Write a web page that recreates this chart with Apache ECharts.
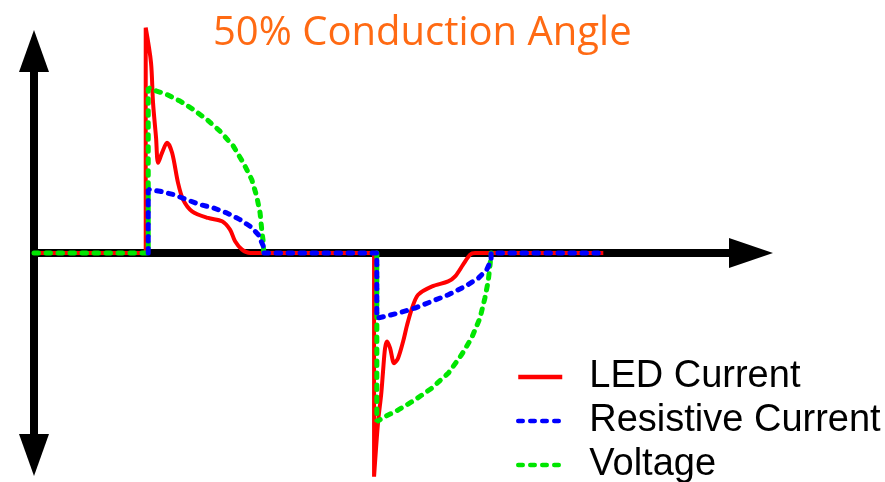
<!DOCTYPE html>
<html>
<head>
<meta charset="utf-8">
<script src="https://cdn.jsdelivr.net/npm/echarts@6/dist/echarts.min.js"></script>
<style>
  html, body { margin: 0; padding: 0; background: #fff; }
  #chart { width: 885px; height: 482px; }
</style>
</head>
<body>
<div id="chart"></div>
<script>
// phase angle (deg) vs. normalized amplitude
const ledCurrent = [
  [0, 0], [88.5, 0], [88.5, 1.35], [92.7, 1.14], [94.3, 0.90], [96.7, 0.69], [98.3, 0.54],
  [101.4, 0.60], [105.4, 0.66], [109.4, 0.60], [114.1, 0.42], [118.1, 0.32], [125.2, 0.25],
  [137.9, 0.21], [149.0, 0.19], [155.3, 0.14], [159.3, 0.07], [164.8, 0.02], [171.2, 0],
  [269.4, 0], [269.4, -1.34], [272.6, -1.01], [275.0, -0.85], [276.5, -0.71], [278.1, -0.57],
  [279.7, -0.53], [282.1, -0.57], [285.3, -0.66], [288.4, -0.63], [292.4, -0.53], [295.6, -0.43],
  [299.5, -0.33], [304.3, -0.25], [315.4, -0.20], [328.1, -0.17], [333.6, -0.14], [339.9, -0.07],
  [345.5, -0.01], [349.4, 0], [451, 0]
]
const resistiveCurrent = [
  [90.5, 0], [90.5, 0.38], [99.8, 0.37], [110.4, 0.35], [121.0, 0.32], [131.5, 0.29],
  [142.1, 0.27], [152.7, 0.24], [163.2, 0.20], [171.2, 0.16], [177.7, 0.11], [181.7, 0.04], [182, 0],
  [271.6, 0], [271.6, -0.39], [278.1, -0.38], [288.6, -0.36], [301.8, -0.33], [315.0, -0.29],
  [328.2, -0.25], [341.5, -0.20], [352.1, -0.15], [358.7, -0.10], [362.1, -0.04], [362.1, 0], [447, 0]
]
const voltage = [
  [0, 0], [90.5, 0], [90.5, 0.99], [97.2, 0.97], [105.1, 0.95], [115.7, 0.91], [126.2, 0.86],
  [136.8, 0.80], [147.3, 0.73], [157.9, 0.64], [165.8, 0.54], [172.5, 0.44], [176.4, 0.34],
  [179.1, 0.24], [180.4, 0.14], [181.7, 0.06], [182, 0],
  [226, '-'],
  [271.6, 0], [271.6, -1.01], [278.1, -0.98], [288.6, -0.94], [301.8, -0.88], [315.0, -0.81],
  [328.2, -0.72], [338.7, -0.61], [346.6, -0.51], [353.3, -0.39], [357.2, -0.27], [359.8, -0.17],
  [361.3, -0.07], [362.1, 0]
]
const names = ['LED Current', 'Resistive Current', 'Voltage']

const chart = echarts.init(document.getElementById('chart'), null, { renderer: 'canvas' })

const dotted = (color) => ({ color: color, width: 5, type: [4.5, 7.5], cap: 'round' })

chart.setOption({
  animation: false,
  backgroundColor: '#fff',
  title: {
    text: '50% Conduction Angle',
    left: 208,
    top: 9,
    textStyle: { color: '#ff6a13', fontFamily: 'Open Sans', fontSize: 40, fontWeight: 'normal' }
  },
  legend: {
    data: names,
    orient: 'vertical',
    left: 516,
    top: 358,
    height: 140,
    padding: 0,
    itemWidth: 44,
    itemHeight: 14,
    itemGap: 6,
    itemStyle: { opacity: 0 },
    lineStyle: { width: 4.5 },
    textStyle: { color: '#000', fontFamily: 'Liberation Sans', fontSize: 38, lineHeight: 38, padding: [0, 0, 0, 22] }
  },
  grid: { left: 34, right: 134, top: 51, bottom: 27 },
  xAxis: {
    type: 'value',
    min: 0,
    max: 568,
    axisLine: {
      show: true,
      onZero: true,
      symbol: ['none', 'triangle'],
      symbolSize: [30, 44],
      lineStyle: { color: '#000', width: 8 }
    },
    axisTick: { show: false },
    axisLabel: { show: false },
    splitLine: { show: false }
  },
  yAxis: {
    type: 'value',
    min: -1.21,
    max: 1.21,
    axisLine: {
      show: true,
      symbol: ['triangle', 'triangle'],
      symbolSize: [30, 42],
      lineStyle: { color: '#000', width: 8 }
    },
    axisTick: { show: false },
    axisLabel: { show: false },
    splitLine: { show: false }
  },
  series: [
    {
      name: names[0], type: 'line', data: ledCurrent, clip: false, showSymbol: false, symbol: 'none',
      smooth: 0.3, lineStyle: { color: '#ff0000', width: 4 }, itemStyle: { color: '#ff0000' }, z: 2
    },
    {
      name: names[1], type: 'line', data: resistiveCurrent, clip: false, showSymbol: false, symbol: 'none',
      lineStyle: dotted('#0000ff'), itemStyle: { color: '#0000ff' }, z: 4
    },
    {
      name: names[2], type: 'line', data: voltage, clip: false, showSymbol: false, symbol: 'none',
      lineStyle: dotted('#00e600'), itemStyle: { color: '#00e600' }, z: 3
    }
  ]
})
</script>
</body>
</html>
